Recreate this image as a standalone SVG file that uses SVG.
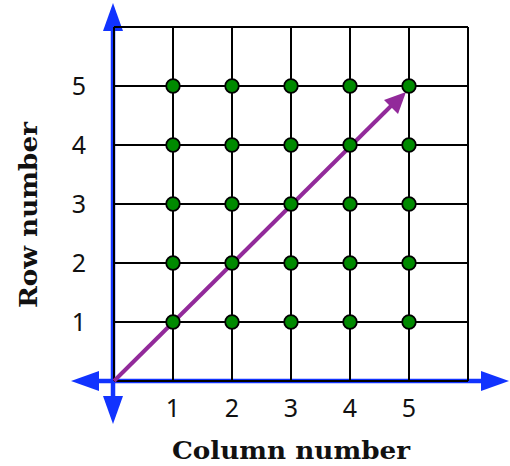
<svg xmlns="http://www.w3.org/2000/svg" width="510" height="466" viewBox="0 0 510 466">
<style>
.grid{stroke:#000;stroke-width:2;fill:none}
.axis{stroke:#1133ff;stroke-width:4.5;fill:none}
.ahead{fill:#1133ff}
.dot{fill:#008a00;stroke:#000;stroke-width:1.8}
.num{font-family:"Noto Sans","Open Sans",sans-serif;font-size:25px;fill:#111;text-anchor:middle}
.lbl{font-family:"DejaVu Serif","Liberation Serif",serif;font-weight:bold;font-size:25px;fill:#111;text-anchor:middle}
</style>
<rect width="510" height="466" fill="#fff"/>
<g id="axes">
<line class="axis" x1="113" y1="28" x2="113" y2="402"/>
<line class="axis" x1="92" y1="381" x2="488" y2="381"/>
<polygon class="ahead" points="113,3 123,31 103,31"/>
<polygon class="ahead" points="113,424 123,396 103,396"/>
<polygon class="ahead" points="71,381 99,371 99,391"/>
<polygon class="ahead" points="509,381 481,371 481,391"/>
</g>
<g id="grid">
<path class="grid" d="M114,27V381M173,27V381M232,27V381M291,27V381M350,27V381M409,27V381M468,27V381M114,27H468M114,86H468M114,145H468M114,204H468M114,263H468M114,322H468M114,381H468"/>
</g>
<g id="connectors">
<line x1="114" y1="381" x2="393" y2="104" stroke="#922a9a" stroke-width="4"/>
<polygon points="406,92 384,100 398,114" fill="#922a9a"/>
</g>
<g id="dots">
<circle class="dot" cx="173" cy="86" r="6.8"/><circle class="dot" cx="232" cy="86" r="6.8"/><circle class="dot" cx="291" cy="86" r="6.8"/><circle class="dot" cx="350" cy="86" r="6.8"/><circle class="dot" cx="409" cy="86" r="6.8"/>
<circle class="dot" cx="173" cy="145" r="6.8"/><circle class="dot" cx="232" cy="145" r="6.8"/><circle class="dot" cx="291" cy="145" r="6.8"/><circle class="dot" cx="350" cy="145" r="6.8"/><circle class="dot" cx="409" cy="145" r="6.8"/>
<circle class="dot" cx="173" cy="204" r="6.8"/><circle class="dot" cx="232" cy="204" r="6.8"/><circle class="dot" cx="291" cy="204" r="6.8"/><circle class="dot" cx="350" cy="204" r="6.8"/><circle class="dot" cx="409" cy="204" r="6.8"/>
<circle class="dot" cx="173" cy="263" r="6.8"/><circle class="dot" cx="232" cy="263" r="6.8"/><circle class="dot" cx="291" cy="263" r="6.8"/><circle class="dot" cx="350" cy="263" r="6.8"/><circle class="dot" cx="409" cy="263" r="6.8"/>
<circle class="dot" cx="173" cy="322" r="6.8"/><circle class="dot" cx="232" cy="322" r="6.8"/><circle class="dot" cx="291" cy="322" r="6.8"/><circle class="dot" cx="350" cy="322" r="6.8"/><circle class="dot" cx="409" cy="322" r="6.8"/>
</g>
<g id="row-labels">
<text class="num" x="79" y="95">5</text>
<text class="num" x="79" y="154">4</text>
<text class="num" x="79" y="213">3</text>
<text class="num" x="79" y="272">2</text>
<text class="num" x="79" y="331">1</text>
</g>
<g id="col-labels">
<text class="num" x="173" y="417">1</text>
<text class="num" x="232" y="417">2</text>
<text class="num" x="291" y="417">3</text>
<text class="num" x="350" y="417">4</text>
<text class="num" x="409" y="417">5</text>
</g>
<text id="x-title" class="lbl" x="291" y="459" textLength="238" lengthAdjust="spacingAndGlyphs">Column number</text>
<text id="y-title" class="lbl" transform="translate(37,215) rotate(-90)" x="0" y="0" textLength="186" lengthAdjust="spacingAndGlyphs">Row number</text>
</svg>
